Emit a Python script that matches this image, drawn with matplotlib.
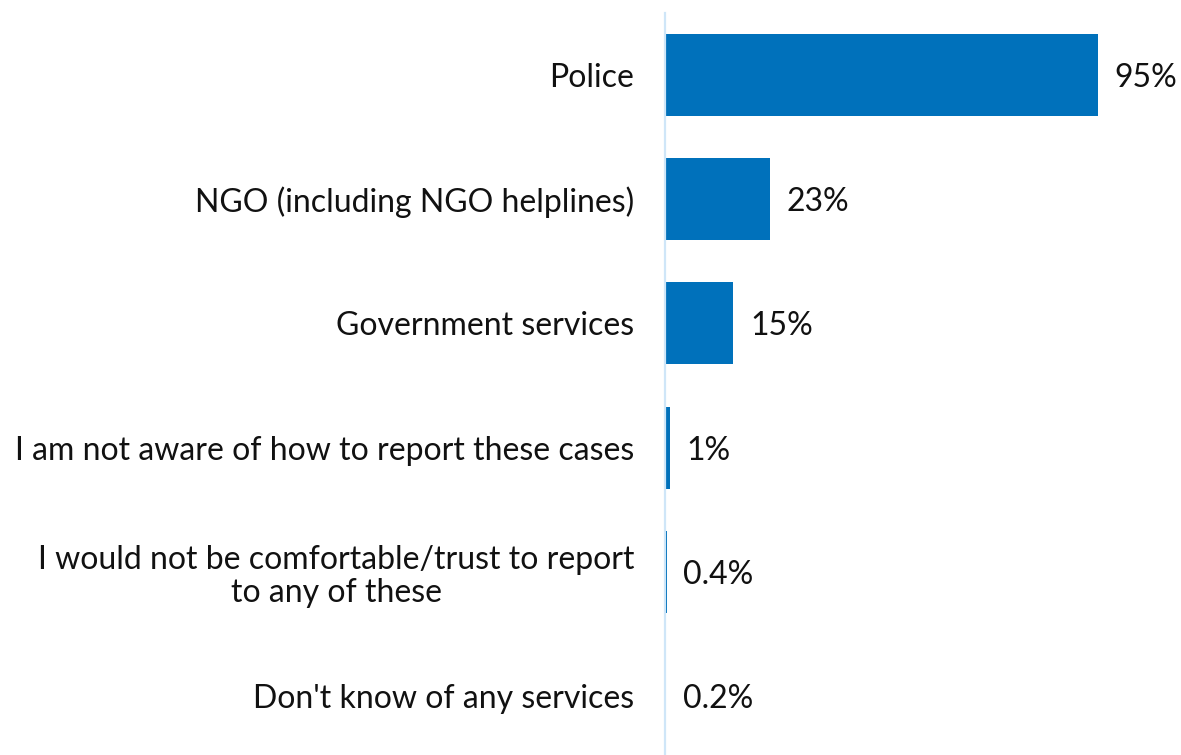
import matplotlib
matplotlib.use("Agg")
import matplotlib.pyplot as plt

categories = [
    "Police",
    "NGO (including NGO helplines)",
    "Government services",
    "I am not aware of how to report these cases",
    "I would not be comfortable/trust to report\nto any of these",
    "Don't know of any services",
]
values = [95, 23, 15, 1, 0.4, 0.2]
value_labels = ["95%", "23%", "15%", "1%", "0.4%", "0.2%"]

bar_color = "#0071bb"
axis_color = "#cfe6f8"
text_color = "#111111"

plt.rcParams["font.family"] = ["Lato", "DejaVu Sans"]
font_size = 23.0

fig = plt.figure(figsize=(11.81, 7.55), dpi=100)
ax = fig.add_axes([665 / 1181, -3 / 755, (1181 - 665) / 1181, 745 / 755])

y = list(range(len(categories)))
ax.barh(y, values, height=0.66, color=bar_color, zorder=2)

ax.set_ylim(len(categories) - 0.5, -0.5)
ax.set_xlim(0, 95 * (1181 - 665) / 433)

for yi, v, lab in zip(y, values, value_labels):
    ax.annotate(lab, xy=(v, yi), xytext=(12, 0), textcoords="offset points",
                ha="left", va="center_baseline", fontsize=font_size,
                color=text_color)

ax.set_yticks(y)
ax.set_yticklabels(categories, fontsize=font_size, color=text_color,
                   multialignment="center", linespacing=1.15)
ax.tick_params(axis="y", length=0, pad=22)

ax.set_xticks([])
for side in ["top", "right", "bottom"]:
    ax.spines[side].set_visible(False)
ax.spines["left"].set_color(axis_color)
ax.spines["left"].set_linewidth(1.6)
ax.spines["left"].set_zorder(3)

fig.savefig("out.png", dpi=100, facecolor="white")
